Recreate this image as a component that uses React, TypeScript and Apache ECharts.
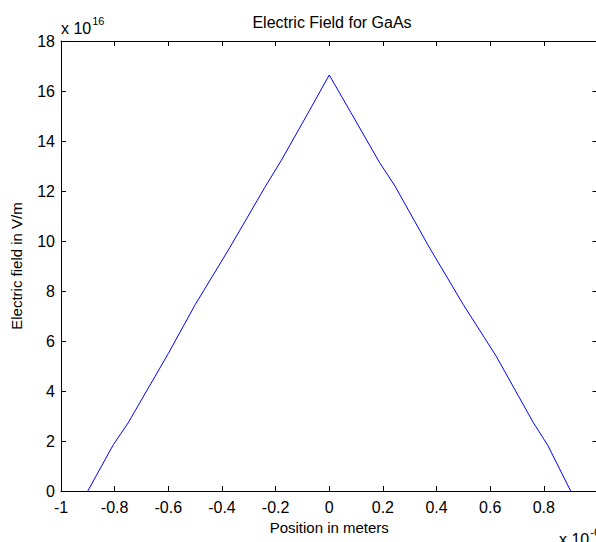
import React, { useEffect, useRef } from "react";
import * as echarts from "echarts";

// Position in units of 1e-6 m, field in units of 1e16 V/m
const positions = [-0.9, -0.805, -0.75, -0.6, -0.5, -0.37, -0.24, -0.18, -0.08, 0, 0.08, 0.187, 0.245, 0.37, 0.5, 0.622, 0.76, 0.815, 0.9];
const fields = [0, 1.85, 2.72, 5.5, 7.45, 9.75, 12.15, 13.2, 15.1, 16.64, 15.15, 13.15, 12.2, 9.8, 7.45, 5.4, 2.75, 1.82, 0];
const titleText = "Electric Field for GaAs";
const xName = "Position in meters";
const yName = "Electric field in V/m";

const FONT = "Liberation Sans, Arial, sans-serif";

export default function App() {
  const ref = useRef<HTMLDivElement>(null);
  useEffect(() => {
    if (!ref.current) return;
    const chart = echarts.init(ref.current, null, { renderer: "svg" });
    const axisLine = { show: true, onZero: false, lineStyle: { color: "#000", width: 1 } };
    const tick = { show: true, inside: true, length: 5, lineStyle: { color: "#000" } };
    const rich = {
      b: { fontSize: 16, fontFamily: FONT, verticalAlign: "bottom", fill: "#000" },
      s: { fontSize: 11, fontFamily: FONT, verticalAlign: "top", padding: [0, 0, 10, 1], fill: "#000" },
    };
    chart.setOption({
      animation: false,
      backgroundColor: "#fff",
      textStyle: { fontFamily: FONT },
      title: {
        text: titleText,
        left: 327,
        textAlign: "center",
        top: 9,
        textStyle: { fontSize: 16, fontWeight: "normal", color: "#000", fontFamily: FONT },
      },
      grid: { left: 61, top: 41, width: 536.5, height: 450, containLabel: false },
      xAxis: [
        {
          type: "value", min: -1, max: 1, interval: 0.2, position: "bottom",
          axisLine, axisTick: tick, splitLine: { show: false },
          axisLabel: { color: "#000", fontSize: 16, margin: 8, fontFamily: FONT, showMaxLabel: false,
            formatter: (v: number) => String(Math.round(v * 10) / 10) },
          name: xName, nameLocation: "middle", nameGap: 29,
          nameTextStyle: { color: "#000", fontSize: 15, fontFamily: FONT },
        },
        {
          type: "value", min: -1, max: 1, interval: 0.2, position: "top",
          axisLine, axisTick: tick, axisLabel: { show: false }, splitLine: { show: false },
        },
      ],
      yAxis: [
        {
          type: "value", min: 0, max: 18, interval: 2, position: "left",
          axisLine, axisTick: tick, splitLine: { show: false },
          axisLabel: { color: "#000", fontSize: 16, margin: 6, fontFamily: FONT },
          name: yName, nameLocation: "middle", nameGap: 37,
          nameTextStyle: { color: "#000", fontSize: 15, fontFamily: FONT },
        },
        {
          type: "value", min: 0, max: 18, interval: 2, position: "right",
          axisLine, axisTick: tick, axisLabel: { show: false }, splitLine: { show: false },
        },
      ],
      series: [
        {
          type: "line",
          data: positions.map((p, i) => [p, fields[i]]),
          showSymbol: false,
          lineStyle: { color: "#0000ff", width: 1 },
          itemStyle: { color: "#0000ff" },
        },
      ],
      graphic: [
        {
          type: "text", left: 61, top: 15,
          style: { text: "{b|x 10}{s|16}", fill: "#000", rich },
        },
        {
          type: "text", left: 559, top: 526,
          style: { text: "{b|x 10}{s|-6}", fill: "#000", rich },
        },
      ],
    });
    return () => chart.dispose();
  }, []);
  return (
    <div
      ref={ref}
      style={{ position: "fixed", left: 0, top: 0, width: 610, height: 542 }}
    />
  );
}
